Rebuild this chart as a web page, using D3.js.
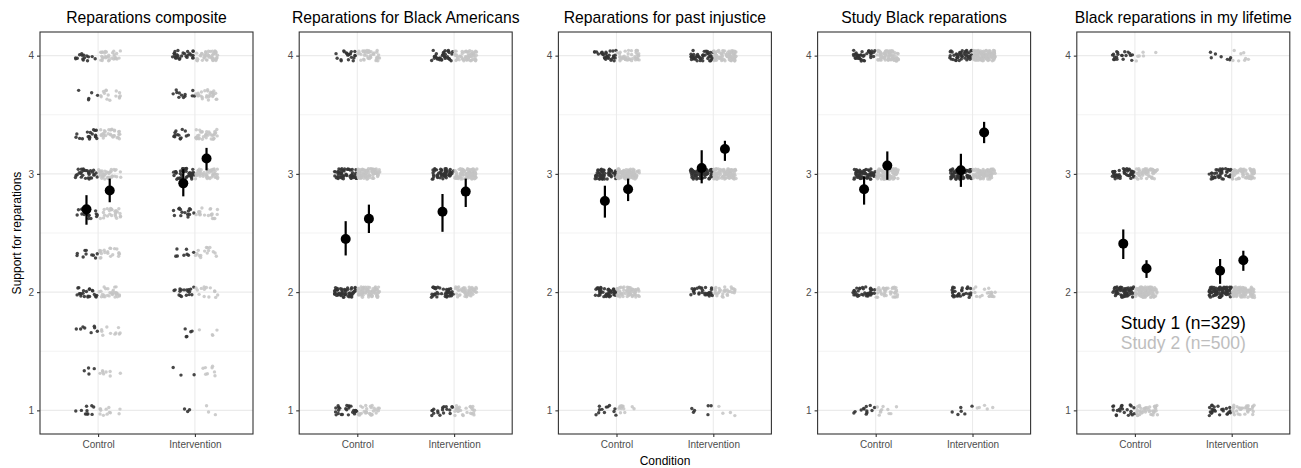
<!DOCTYPE html>
<html>
<head>
<meta charset="utf-8">
<script src="https://cdn.jsdelivr.net/npm/d3@7"></script>
<style>
body { margin: 0; background: #fff; }
text { font-family: "Liberation Sans", Arial, Helvetica, sans-serif; }
</style>
</head>
<body>
<svg id="chart" width="1301" height="468"></svg>
<script>
var titles = ["Reparations composite", "Reparations for Black Americans", "Reparations for past injustice",
              "Study Black reparations", "Black reparations in my lifetime"];
var conditions = ["Control", "Intervention"];
var studies = ["Study 1 (n=329)", "Study 2 (n=500)"];

// response levels per panel
var levels = [
    [1, 1.333, 1.667, 2, 2.333, 2.667, 3, 3.333, 3.667, 4],
    [1, 2, 3, 4],
    [1, 2, 3, 4],
    [1, 2, 3, 4],
    [1, 2, 3, 4]
];

// number of respondents at each level
var s1Control = [
    [10, 4, 8, 22, 10, 18, 30, 18, 5, 15],
    [25, 55, 50, 20],
    [12, 45, 60, 30],
    [12, 38, 60, 38],
    [22, 58, 45, 20]
];
var s2Control = [
    [12, 8, 10, 30, 20, 25, 40, 30, 15, 30],
    [30, 70, 80, 40],
    [12, 60, 100, 45],
    [10, 40, 95, 75],
    [40, 110, 55, 6]
];
var s1Intervention = [
    [3, 3, 5, 18, 8, 15, 40, 14, 12, 28],
    [18, 42, 52, 35],
    [6, 30, 65, 45],
    [6, 32, 65, 45],
    [25, 75, 40, 7]
];
var s2Intervention = [
    [3, 8, 4, 14, 15, 20, 50, 35, 30, 45],
    [25, 55, 85, 60],
    [4, 30, 100, 85],
    [5, 20, 90, 110],
    [35, 100, 70, 8]
];

// mean, lower, upper
var s1ControlMean = [[2.70, 2.57, 2.82], [2.45, 2.31, 2.60], [2.77, 2.63, 2.90], [2.87, 2.74, 2.98], [2.41, 2.28, 2.53]];
var s2ControlMean = [[2.86, 2.76, 2.96], [2.62, 2.50, 2.74], [2.87, 2.77, 2.96], [3.07, 2.95, 3.19], [2.20, 2.12, 2.27]];
var s1InterventionMean = [[2.92, 2.81, 3.04], [2.68, 2.51, 2.83], [3.05, 2.92, 3.20], [3.03, 2.89, 3.17], [2.18, 2.07, 2.28]];
var s2InterventionMean = [[3.13, 3.03, 3.22], [2.85, 2.72, 2.96], [3.21, 3.11, 3.28], [3.35, 3.26, 3.44], [2.27, 2.18, 2.35]];

var panelWidth = 213;
var panelHeight = 402;
var panelTop = 32;
var panelStep = 259.2;
var dodge = 0.12;
var studyColors = ["#333333", "#c4c4c4"];

var svg = d3.select("#chart");

var y = d3.scaleLinear()
    .domain([0.8, 4.2])
    .range([panelHeight, 0]);

var x = d3.scaleLinear()
    .domain([0.4, 2.6])
    .range([0, panelWidth]);

// deterministic jitter (hash of a counter) so the clouds look like geom_jitter
var k = 0;
function hash(i) {
    var t = Math.sin(i * 12.9898 + 78.233) * 43758.5453;
    return t - Math.floor(t);
}
function jitter() {
    k++;
    return [hash(k) * 2 - 1, hash(k + 50000) * 2 - 1];
}

titles.forEach(function(title, p) {
    var g = svg.append("g")
        .attr("transform", "translate(" + (40 + p * panelStep) + "," + panelTop + ")");

    // minor grid
    g.selectAll(".minor")
        .data([1.5, 2.5, 3.5])
      .enter().append("line")
        .attr("x1", 0).attr("x2", panelWidth)
        .attr("y1", function(d) { return y(d); })
        .attr("y2", function(d) { return y(d); })
        .attr("stroke", "#ebebeb")
        .attr("stroke-width", 0.6);

    // major grid
    g.selectAll(".major")
        .data([1, 2, 3, 4])
      .enter().append("line")
        .attr("x1", 0).attr("x2", panelWidth)
        .attr("y1", function(d) { return y(d); })
        .attr("y2", function(d) { return y(d); })
        .attr("stroke", "#ebebeb")
        .attr("stroke-width", 1.1);

    g.selectAll(".vmajor")
        .data([1, 2])
      .enter().append("line")
        .attr("y1", 0).attr("y2", panelHeight)
        .attr("x1", function(d) { return x(d); })
        .attr("x2", function(d) { return x(d); })
        .attr("stroke", "#ebebeb")
        .attr("stroke-width", 1.1);

    // jittered respondents
    var groups = [
        {c: 1, s: 0, counts: s1Control[p]},
        {c: 1, s: 1, counts: s2Control[p]},
        {c: 2, s: 0, counts: s1Intervention[p]},
        {c: 2, s: 1, counts: s2Intervention[p]}
    ];
    var pts = [];
    groups.forEach(function(gr) {
        gr.counts.forEach(function(n, li) {
            for (var i = 0; i < n; i++) {
                var j = jitter();
                pts.push({
                    x: gr.c + (gr.s === 0 ? -dodge : dodge) + j[0] * 0.115,
                    y: levels[p][li] + j[1] * 0.045,
                    s: gr.s
                });
            }
        });
    });

    g.selectAll(".pt")
        .data(pts)
      .enter().append("circle")
        .attr("cx", function(d) { return x(d.x); })
        .attr("cy", function(d) { return y(d.y); })
        .attr("r", 1.7)
        .attr("fill", function(d) { return studyColors[d.s]; })
        .attr("fill-opacity", function(d) { return d.s === 0 ? 0.9 : 0.85; });

    // means with intervals
    var means = [
        {c: 1, s: 0, v: s1ControlMean[p]},
        {c: 1, s: 1, v: s2ControlMean[p]},
        {c: 2, s: 0, v: s1InterventionMean[p]},
        {c: 2, s: 1, v: s2InterventionMean[p]}
    ];
    var m = g.selectAll(".mean")
        .data(means)
      .enter().append("g");

    m.append("line")
        .attr("x1", function(d) { return x(d.c + (d.s === 0 ? -dodge : dodge)); })
        .attr("x2", function(d) { return x(d.c + (d.s === 0 ? -dodge : dodge)); })
        .attr("y1", function(d) { return y(d.v[1]); })
        .attr("y2", function(d) { return y(d.v[2]); })
        .attr("stroke", "#000")
        .attr("stroke-width", 2.2);

    m.append("circle")
        .attr("cx", function(d) { return x(d.c + (d.s === 0 ? -dodge : dodge)); })
        .attr("cy", function(d) { return y(d.v[0]); })
        .attr("r", 5)
        .attr("fill", "#000");

    // panel border
    g.append("rect")
        .attr("width", panelWidth)
        .attr("height", panelHeight)
        .attr("fill", "none")
        .attr("stroke", "#333333")
        .attr("stroke-width", 1.1);

    // axes
    var yAxis = g.append("g")
        .call(d3.axisLeft(y).tickValues([1, 2, 3, 4]).tickFormat(d3.format("d")).tickSize(3).tickPadding(3));
    var xAxis = g.append("g")
        .attr("transform", "translate(0," + panelHeight + ")")
        .call(d3.axisBottom(x).tickValues([1, 2]).tickSize(3).tickPadding(4)
            .tickFormat(function(d) { return conditions[d - 1]; }));

    [yAxis, xAxis].forEach(function(a) {
        a.select(".domain").remove();
        a.selectAll("line").attr("stroke", "#333333").attr("stroke-width", 1.1);
        a.selectAll("text")
            .attr("fill", "#4d4d4d")
            .style("font-size", "10px")
            .style("font-family", "'Liberation Sans', Arial, sans-serif");
    });

    // strip title
    g.append("text")
        .attr("x", panelWidth / 2)
        .attr("y", -9)
        .attr("text-anchor", "middle")
        .style("font-size", "15.7px")
        .attr("fill", "#000")
        .text(title);
});

// legend inside last panel
var legend = svg.append("g")
    .attr("transform", "translate(" + (40 + 4 * panelStep + panelWidth / 2) + ",0)");

legend.selectAll("text")
    .data(studies)
  .enter().append("text")
    .attr("x", 0)
    .attr("y", function(d, i) { return 329 + i * 20; })
    .attr("text-anchor", "middle")
    .style("font-size", "17.5px")
    .attr("fill", function(d, i) { return i === 0 ? "#000" : "#bebebe"; })
    .text(function(d) { return d; });

// axis titles
svg.append("text")
    .attr("x", 665)
    .attr("y", 465)
    .attr("text-anchor", "middle")
    .style("font-size", "12px")
    .text("Condition");

svg.append("text")
    .attr("transform", "translate(21," + (panelTop + panelHeight / 2) + ") rotate(-90)")
    .attr("text-anchor", "middle")
    .style("font-size", "12px")
    .text("Support for reparations");
</script>
</body>
</html>
